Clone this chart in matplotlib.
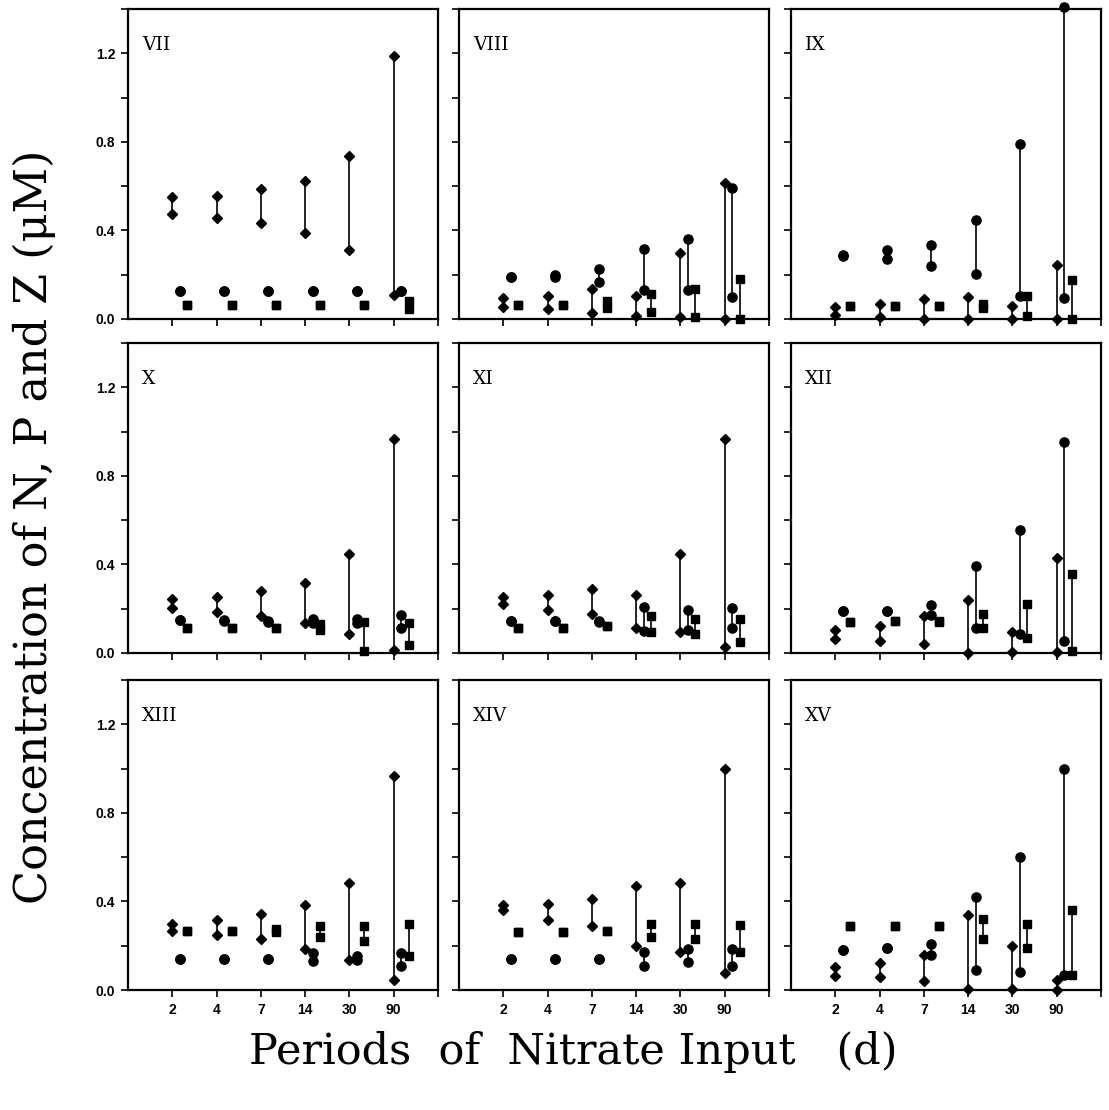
import matplotlib
matplotlib.use("Agg")
import matplotlib.pyplot as plt
from matplotlib.ticker import MultipleLocator

# ---------------- data ----------------
panels = ["VII", "VIII", "IX", "X", "XI", "XII", "XIII", "XIV", "XV"]
periods = ["2", "4", "7", "14", "30", "90"]

# N (diamonds): upper / lower values per period
N_hi = {
    "VII":  [0.55, 0.555, 0.585, 0.625, 0.735, 1.19],
    "VIII": [0.095, 0.105, 0.135, 0.105, 0.30, 0.615],
    "IX":   [0.055, 0.07, 0.09, 0.10, 0.06, 0.245],
    "X":    [0.245, 0.255, 0.28, 0.315, 0.445, 0.965],
    "XI":   [0.255, 0.26, 0.29, 0.26, 0.445, 0.965],
    "XII":  [0.105, 0.12, 0.165, 0.24, 0.095, 0.43],
    "XIII": [0.30, 0.315, 0.345, 0.385, 0.485, 0.965],
    "XIV":  [0.385, 0.39, 0.41, 0.47, 0.485, 1.0],
    "XV":   [0.105, 0.12, 0.16, 0.34, 0.20, 0.045],
}
N_lo = {
    "VII":  [0.475, 0.455, 0.435, 0.39, 0.31, 0.11],
    "VIII": [0.055, 0.045, 0.025, 0.015, 0.01, 0.0],
    "IX":   [0.02, 0.01, 0.0, 0.0, 0.0, 0.0],
    "X":    [0.205, 0.185, 0.165, 0.135, 0.085, 0.015],
    "XI":   [0.22, 0.195, 0.175, 0.115, 0.095, 0.025],
    "XII":  [0.065, 0.055, 0.04, 0.0, 0.005, 0.005],
    "XIII": [0.265, 0.25, 0.23, 0.185, 0.135, 0.045],
    "XIV":  [0.36, 0.315, 0.29, 0.20, 0.17, 0.075],
    "XV":   [0.065, 0.06, 0.04, 0.005, 0.005, 0.0],
}
# P (circles)
P_hi = {
    "VII":  [0.125, 0.125, 0.125, 0.125, 0.125, 0.125],
    "VIII": [0.19, 0.20, 0.225, 0.315, 0.36, 0.59],
    "IX":   [0.29, 0.31, 0.335, 0.445, 0.79, 1.41],
    "X":    [0.15, 0.15, 0.145, 0.155, 0.155, 0.17],
    "XI":   [0.145, 0.145, 0.145, 0.21, 0.195, 0.205],
    "XII":  [0.19, 0.19, 0.215, 0.395, 0.555, 0.955],
    "XIII": [0.14, 0.14, 0.14, 0.165, 0.155, 0.165],
    "XIV":  [0.14, 0.14, 0.14, 0.17, 0.185, 0.185],
    "XV":   [0.18, 0.19, 0.21, 0.42, 0.60, 1.0],
}
P_lo = {
    "VII":  [0.125, 0.125, 0.125, 0.125, 0.125, 0.125],
    "VIII": [0.19, 0.19, 0.165, 0.13, 0.13, 0.10],
    "IX":   [0.285, 0.27, 0.24, 0.205, 0.105, 0.095],
    "X":    [0.15, 0.145, 0.14, 0.135, 0.135, 0.115],
    "XI":   [0.145, 0.145, 0.14, 0.10, 0.105, 0.115],
    "XII":  [0.19, 0.19, 0.17, 0.115, 0.085, 0.055],
    "XIII": [0.14, 0.14, 0.14, 0.13, 0.135, 0.11],
    "XIV":  [0.14, 0.14, 0.14, 0.11, 0.125, 0.11],
    "XV":   [0.18, 0.19, 0.16, 0.09, 0.08, 0.07],
}
# Z (squares)
Z_hi = {
    "VII":  [0.065, 0.065, 0.065, 0.065, 0.065, 0.08],
    "VIII": [0.065, 0.065, 0.08, 0.115, 0.135, 0.18],
    "IX":   [0.06, 0.06, 0.06, 0.07, 0.105, 0.175],
    "X":    [0.115, 0.115, 0.115, 0.13, 0.14, 0.135],
    "XI":   [0.115, 0.115, 0.12, 0.165, 0.155, 0.155],
    "XII":  [0.14, 0.145, 0.145, 0.175, 0.22, 0.355],
    "XIII": [0.265, 0.265, 0.275, 0.29, 0.29, 0.30],
    "XIV":  [0.26, 0.26, 0.265, 0.30, 0.30, 0.295],
    "XV":   [0.29, 0.29, 0.29, 0.32, 0.30, 0.36],
}
Z_lo = {
    "VII":  [0.065, 0.065, 0.065, 0.065, 0.065, 0.045],
    "VIII": [0.065, 0.065, 0.05, 0.03, 0.01, 0.0],
    "IX":   [0.06, 0.06, 0.06, 0.05, 0.015, 0.0],
    "X":    [0.115, 0.115, 0.115, 0.105, 0.01, 0.035],
    "XI":   [0.115, 0.115, 0.12, 0.095, 0.085, 0.05],
    "XII":  [0.14, 0.145, 0.14, 0.115, 0.07, 0.01],
    "XIII": [0.265, 0.265, 0.26, 0.24, 0.22, 0.155],
    "XIV":  [0.26, 0.26, 0.265, 0.24, 0.23, 0.17],
    "XV":   [0.29, 0.29, 0.29, 0.23, 0.19, 0.07],
}

# ---------------- layout ----------------
W, H = 1109, 1110
fig = plt.figure(figsize=(W / 100, H / 100), dpi=100)

col_left = [128, 459, 791]
col_w = 310
row_top = [9, 343, 680]
row_h = 310

series = [
    (N_lo, N_hi, "D", 5.6, 0.0),
    (P_lo, P_hi, "o", 6.6, 0.17),
    (Z_lo, Z_hi, "s", 5.8, 0.34),
]

tick_font = dict(family="Liberation Sans", size=10, weight="bold")

for k, name in enumerate(panels):
    r, c = divmod(k, 3)
    ax = fig.add_axes([col_left[c] / W, 1 - (row_top[r] + row_h) / H,
                       col_w / W, row_h / H])
    for lo, hi, mk, ms, off in series:
        for i in range(len(periods)):
            x = i + 1 + off
            ylo, yhi = lo[name][i], hi[name][i]
            ax.plot([x, x], [ylo, yhi], color="black", lw=1.2,
                    solid_capstyle="butt", zorder=2)
            ax.plot([x, x], [ylo, yhi], linestyle="none", marker=mk,
                    ms=ms, color="black", zorder=3, clip_on=False)
    ax.set_xlim(0, 7)
    ax.set_ylim(0, 1.4)
    ax.set_xticks(range(1, 8))
    ax.yaxis.set_major_locator(MultipleLocator(0.4))
    ax.yaxis.set_minor_locator(MultipleLocator(0.2))
    ax.tick_params(direction="out", length=5, width=1.2, which="both",
                   top=False, right=False, pad=4)
    if r == 2:
        ax.set_xticklabels(periods + [""], fontdict=tick_font)
    else:
        ax.set_xticklabels([])
    if c == 0:
        ax.set_yticks([0.0, 0.4, 0.8, 1.2])
        ax.set_yticklabels(["0.0", "0.4", "0.8", "1.2"], fontdict=tick_font)
    else:
        ax.set_yticklabels([])
    for s in ax.spines.values():
        s.set_linewidth(1.6)
    ax.text(0.045, 0.885, name, transform=ax.transAxes, ha="left",
            va="center", fontsize=13.5, family="DejaVu Serif")

fig.text(0.031, 0.525, "Concentration of N, P and Z (\u03bcM)", rotation=90,
         ha="center", va="center", fontsize=32, family="DejaVu Serif")
fig.text(0.517, 0.052, "Periods  of  Nitrate Input   (d)", ha="center",
         va="center", fontsize=31, family="DejaVu Serif")

fig.savefig("out.png", dpi=100)
